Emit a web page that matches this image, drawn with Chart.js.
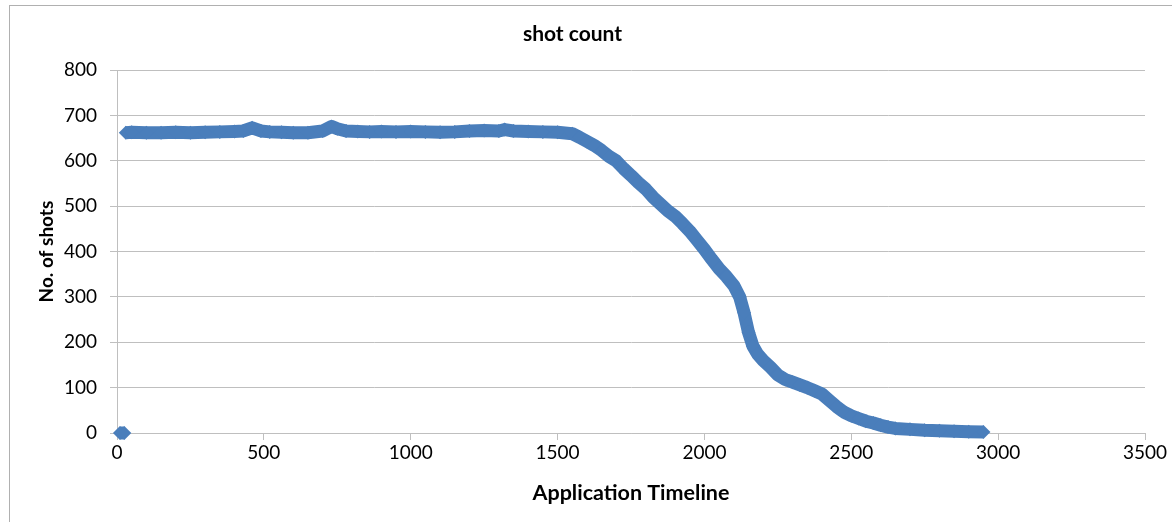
<!DOCTYPE html>
<html>
<head>
<meta charset="utf-8">
<script src="https://cdn.jsdelivr.net/npm/chart.js@4/dist/chart.umd.min.js"></script>
<style>
  body { margin: 0; background: #fff; }
  #wrap { position: relative; width: 1172px; height: 522px; }
  #frame { position: absolute; left: 9px; top: 5px; width: 1162px; height: 520px;
           border: 1px solid #b0b0b0; pointer-events: none; }
</style>
</head>
<body>
<div id="wrap">
  <canvas id="shotChart" width="1172" height="522"></canvas>
  <div id="frame"></div>
</div>
<script>
// valores
const startTimeline = [10, 25];
const startShots = [0, 0];

const timeline = [
  30, 50, 100, 150, 200, 250, 300, 350, 400, 430, 460, 490, 520, 560, 600, 650,
  700, 730, 750, 780, 820, 860, 900, 950, 1000, 1050, 1100, 1150, 1200, 1250,
  1300, 1320, 1350, 1400, 1450, 1500, 1550,
  1575, 1600, 1625, 1650, 1675, 1700, 1725, 1750, 1775, 1800, 1825, 1850, 1875,
  1900, 1925, 1950, 1975, 2000, 2025, 2050, 2075, 2100, 2120, 2135, 2150, 2165,
  2180, 2200, 2225, 2250, 2275, 2300, 2325, 2350, 2375, 2400, 2425, 2450, 2475,
  2500, 2525, 2550, 2575, 2600, 2625, 2650, 2700, 2750, 2800, 2850, 2900, 2950
];
const shots = [
  662, 663, 662, 662, 663, 662, 663, 664, 665, 666, 673, 666, 664, 663, 662, 662,
  666, 676, 671, 666, 665, 664, 665, 664, 665, 664, 663, 664, 666, 667,
  666, 669, 666, 665, 664, 663, 660,
  652, 643, 634, 623, 610, 600, 583, 568, 552, 538, 520, 505, 490,
  478, 462, 445, 425, 405, 383, 362, 345, 325, 300, 265, 222, 192,
  175, 160, 145, 128, 118, 112, 106, 100, 93, 86, 72, 58, 46,
  38, 32, 26, 22, 17, 13, 10, 8, 6, 5, 4, 3, 2
];

const xTicks = [0, 500, 1000, 1500, 2000, 2500, 3000, 3500];
const yTicks = [0, 100, 200, 300, 400, 500, 600, 700, 800];

const blue = '#4a7ebb';
const grey = '#bfbfbf';
const fontFamily = 'Lato, "Open Sans", sans-serif';

function toPoints(xs, ys) {
  return xs.map((x, i) => ({ x: x, y: ys[i] }));
}

const serieStyle = {
  showLine: true,
  clip: false,
  borderColor: blue,
  backgroundColor: blue,
  borderWidth: 13,
  borderJoinStyle: 'round',
  pointStyle: 'rectRot',
  pointRadius: 7,
  pointBorderWidth: 0,
  pointHoverRadius: 7
};

new Chart(document.getElementById('shotChart'), {
  type: 'scatter',
  data: {
    datasets: [
      Object.assign({ label: 'start', data: toPoints(startTimeline, startShots) }, serieStyle),
      Object.assign({ label: 'shot count', data: toPoints(timeline, shots) }, serieStyle)
    ]
  },
  options: {
    responsive: false,
    animation: false,
    layout: { padding: { left: 0, right: 27, top: 0, bottom: 0 } },
    plugins: {
      legend: { display: false },
      tooltip: { enabled: false },
      title: {
        display: true,
        text: 'shot count',
        color: '#000',
        font: { family: fontFamily, size: 21, weight: 'bold' },
        padding: { top: 22, bottom: 23 }
      }
    },
    scales: {
      x: {
        type: 'linear',
        min: 0,
        max: 3500,
        afterBuildTicks: s => { s.ticks = xTicks.map(v => ({ value: v })); },
        afterFit: s => { s.height = 89; },
        border: { color: grey, width: 1 },
        grid: { drawOnChartArea: false, drawTicks: true, tickLength: 7, color: grey },
        ticks: { color: '#000', padding: 1, font: { family: fontFamily, size: 19 }, maxRotation: 0,
                 callback: v => String(v) },
        title: {
          display: true,
          text: 'Application Timeline',
          color: '#000',
          font: { family: fontFamily, size: 21.5, weight: 'bold' },
          padding: { top: 16, bottom: 16 }
        }
      },
      y: {
        min: 0,
        max: 800,
        afterBuildTicks: s => { s.ticks = yTicks.map(v => ({ value: v })); },
        afterFit: s => { s.width = 117; },
        border: { color: grey, width: 1 },
        grid: { color: grey, tickLength: 7, drawTicks: true },
        ticks: { color: '#000', padding: 13, font: { family: fontFamily, size: 19 },
                 callback: v => String(v) },
        title: {
          display: true,
          text: 'No. of shots',
          color: '#000',
          font: { family: fontFamily, size: 19, weight: 'bold' },
          padding: { top: 35, bottom: 10 }
        }
      }
    }
  }
});
</script>
</body>
</html>
